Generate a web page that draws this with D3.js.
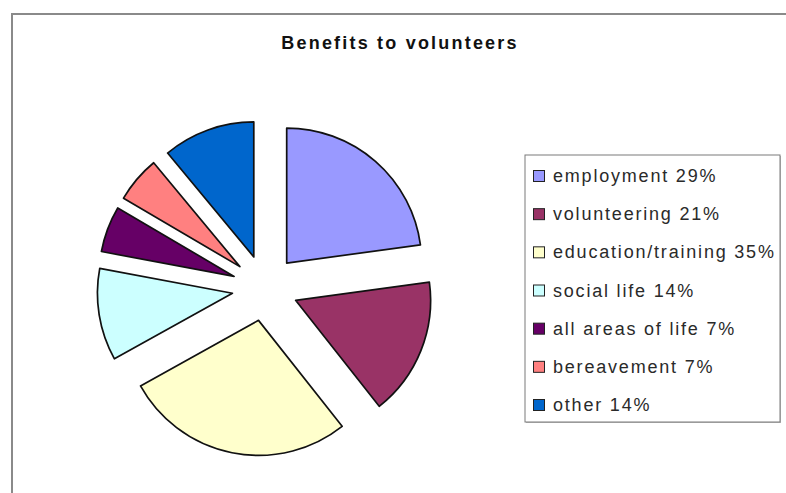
<!DOCTYPE html>
<html>
<head>
<meta charset="utf-8">
<script src="https://cdn.jsdelivr.net/npm/d3@7"></script>
<style>
  body { margin: 0; background: #fff; }
  svg { display: block; }
  text { font-family: "Liberation Sans", Arial, sans-serif; }
</style>
</head>
<body>
<div></div>
<script>
const width = 786;
const height = 493;

// data
const categories = ["employment", "volunteering", "education/training", "social life", "all areas of life", "bereavement", "other"];
const percents = [29, 21, 35, 14, 7, 7, 14];
const colors = ["#9999FF", "#993366", "#FFFFCC", "#CCFFFF", "#660066", "#FF8080", "#0066CC"];

const svg = d3
  .select("div")
  .append("svg")
  .attr("width", width)
  .attr("height", height);

// chart frame (runs off the right and bottom edge)
svg
  .append("rect")
  .attr("x", 12)
  .attr("y", 14)
  .attr("width", 820)
  .attr("height", 520)
  .attr("fill", "#fff")
  .attr("stroke", "#8a8a8a")
  .attr("stroke-width", 2);

svg
  .append("text")
  .attr("x", 400)
  .attr("y", 49)
  .attr("text-anchor", "middle")
  .attr("font-size", "18px")
  .attr("font-weight", "bold")
  .attr("letter-spacing", "2.2px")
  .attr("fill", "#111")
  .text("Benefits to volunteers");

const cx = 265;
const cy = 288;
const radius = 135;
const explode = 33;

const pie = d3.pie().sort(null).value((d) => d.value);
const arc = d3.arc().innerRadius(0).outerRadius(radius);

const slices = pie(categories.map((c, i) => ({ name: c, value: percents[i], color: colors[i] })));

svg
  .append("g")
  .attr("transform", "translate(" + cx + "," + cy + ")")
  .selectAll("path")
  .data(slices)
  .enter()
  .append("path")
  .attr("d", arc)
  .attr("transform", (d) => {
    const mid = (d.startAngle + d.endAngle) / 2;
    return "translate(" + Math.sin(mid) * explode + "," + -Math.cos(mid) * explode + ")";
  })
  .attr("fill", (d) => d.data.color)
  .attr("stroke", "#111")
  .attr("stroke-width", 1.7)
  .attr("stroke-linejoin", "round");

// legend
const legend = svg.append("g").attr("transform", "translate(525,155)");

legend
  .append("rect")
  .attr("x", 1)
  .attr("y", 1)
  .attr("width", 255)
  .attr("height", 267)
  .attr("fill", "#bbb");

legend
  .append("rect")
  .attr("x", 0)
  .attr("y", 0)
  .attr("width", 255)
  .attr("height", 267)
  .attr("fill", "#fff")
  .attr("stroke", "#7a7a7a")
  .attr("stroke-width", 1);

const rowY = d3.scalePoint().domain(categories).range([21, 250]);

legend
  .selectAll("rect.legend-item")
  .data(categories)
  .enter()
  .append("rect")
  .attr("class", "legend-item")
  .attr("x", 8.5)
  .attr("y", (d) => rowY(d) - 5.5)
  .attr("width", 11)
  .attr("height", 11)
  .attr("fill", (d, i) => colors[i])
  .attr("stroke", "#222")
  .attr("stroke-width", 1);

legend
  .selectAll("text")
  .data(categories)
  .enter()
  .append("text")
  .attr("x", 28)
  .attr("y", (d) => rowY(d) + 6)
  .attr("font-size", "18px")
  .attr("letter-spacing", "1.8px")
  .attr("fill", "#2a2a2a")
  .text((d, i) => d + " " + percents[i] + "%");
</script>
</body>
</html>
